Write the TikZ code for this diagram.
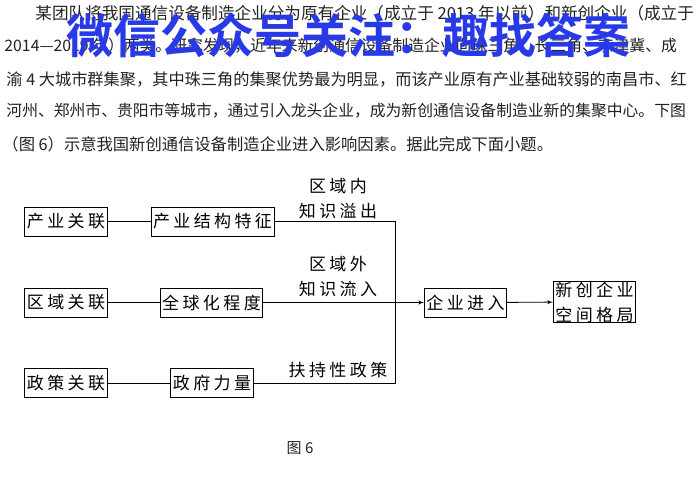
\documentclass[tikz,border=0pt]{standalone}
\usepackage{fontspec}
\setmainfont{Noto Sans CJK SC}
\newfontfamily\boxfont[LetterSpace=20]{Noto Sans CJK SC}
\newfontfamily\wmfont{Noto Sans CJK SC Bold}
\usepackage{xcolor}
\usepackage{tikz}
\usetikzlibrary{positioning}
\usetikzlibrary{shapes,arrows,positioning,fit}
\definecolor{wmblue}{RGB}{40,58,232}
\definecolor{txtgray}{RGB}{34,34,34}
\tikzstyle{block} = [rectangle, draw, line width=1pt, fill=white,
inner xsep=2pt, inner ysep=0pt, minimum height=29pt, font=\fontsize{17}{25}\boxfont, align=center]
\tikzstyle{lbl} = [inner sep=0pt, font=\fontsize{17}{25}\boxfont, align=center]
\tikzstyle{para} = [anchor=west, inner sep=0pt, text=txtgray, font=\fontsize{16.3}{20}\selectfont]
\tikzstyle{line} = [draw, line width=0.9pt, -latex']

\begin{document}
\begin{tikzpicture}[x=1pt, y=-1pt, line width=0.9pt]
\useasboundingbox[fill=white] (0,0) rectangle (700,497);
    % text above the figure
\node [para, font=\fontsize{16.6}{20}\selectfont] (l1) at (35,13) {某团队将我国通信设备制造企业分为原有企业（成立于 2013 年以前）和新创企业（成立于};
\node [para, font=\fontsize{15.8}{20}\selectfont] (l2) at (4,46) {2014—2019 年）两类。研究发现，近年来新创通信设备制造企业向珠三角、长三角、京津冀、成};
\node [para, font=\fontsize{16.2}{20}\selectfont] (l3) at (6,79) {渝 4 大城市群集聚，其中珠三角的集聚优势最为明显，而该产业原有产业基础较弱的南昌市、红};
\node [para, font=\fontsize{15.8}{20}\selectfont] (l4) at (6,111) {河州、郑州市、贵阳市等城市，通过引入龙头企业，成为新创通信设备制造业新的集聚中心。下图};
\node [para] (l5) at (2,144) {（图 6）示意我国新创通信设备制造企业进入影响因素。据此完成下面小题。};
\node [inner sep=0pt, text=wmblue, font=\fontsize{47}{50}\wmfont] (wm) at (348,35) {微信公众号关注：趣找答案};
    % nodes
\node [block] (cygl) at (66,221.5) {产业关联};
\node [block] (cyjgtz) at (212.5,221.5) {产业结构特征};
\node [block] (qygl) at (66,302.5) {区域关联};
\node [block] (qqhcd) at (211.5,302.5) {全球化程度};
\node [block] (zcgl) at (66,383) {政策关联};
\node [block] (zfll) at (212,383) {政府力量};
\node [block] (qyjr) at (465.5,302.5) {企业进入};
\node [block] (xcqy) at (594.5,302) {新创企业\\空间格局};
\node [lbl] (zsyc) at (338,199) {区域内\\知识溢出};
\node [lbl] (zslr) at (338,277) {区域外\\知识流入};
\node [lbl] (fczc) at (338,370) {扶持性政策};
\node [inner sep=0pt, text=txtgray, font=\fontsize{15}{18}\selectfont] (tu6) at (300,448) {图 6};
\coordinate (jtop) at (395,221.5);
\coordinate (jbot) at (395,383);

%edges
\draw (cygl) -- (cyjgtz);
\draw (qygl) -- (qqhcd);
\draw (zcgl) -- (zfll);
\draw (cyjgtz) -- (jtop) -- (jbot) -- (zfll);
\path [line] (qqhcd) -- (qyjr);
\path [line] (qyjr) -- (xcqy);
\end{tikzpicture}
\end{document}
